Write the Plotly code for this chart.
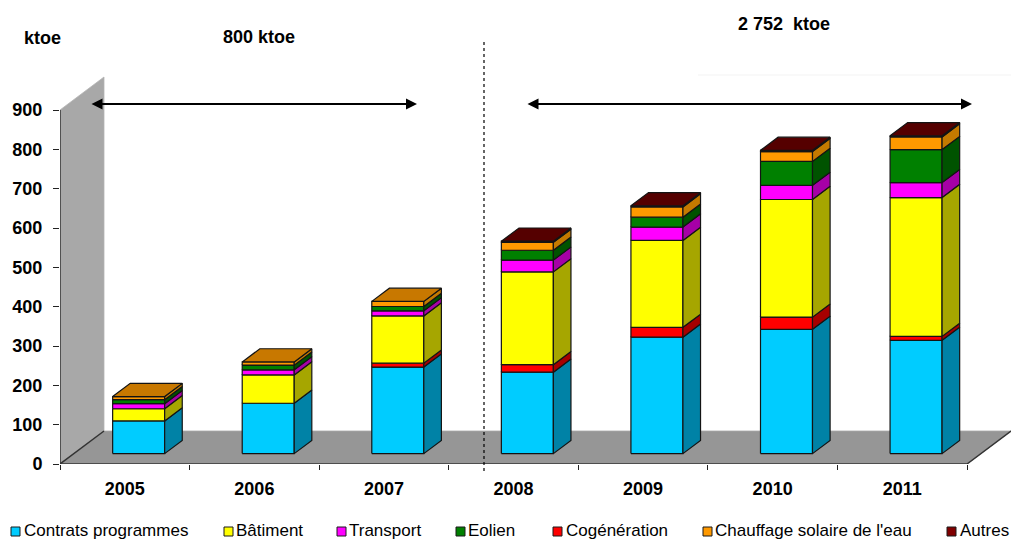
import plotly.graph_objects as go

# Annual savings by programme, ktoe
years = ["2005", "2006", "2007", "2008", "2009", "2010", "2011"]
contrats = [83, 128, 220, 207, 296, 316, 288]
cogeneration = [0, 0, 10, 19, 25, 31, 10]
batiment = [31, 72, 120, 236, 221, 299, 353]
transport = [13, 13, 13, 30, 34, 36, 38]
eolien = [10, 12, 11, 25, 25, 61, 84]
chauffage = [8, 8, 13, 20, 26, 25, 32]
autres = [0, 0, 0, 3, 3, 3, 3]
y_ticks = [0, 100, 200, 300, 400, 500, 600, 700, 800, 900]

# (name, value list, front colour, side colour, top colour), in stacking order
stack = [
    ("Contrats programmes", contrats, "#00ccff", "#0082a6", "#0082a6"),
    ("Cogénération", cogeneration, "#ff0000", "#a60000", "#a60000"),
    ("Bâtiment", batiment, "#ffff00", "#a6a600", "#a6a600"),
    ("Transport", transport, "#ff00ff", "#a600a6", "#a600a6"),
    ("Eolien", eolien, "#008000", "#005300", "#005300"),
    ("Chauffage solaire de l'eau", chauffage, "#ff9900", "#c47a00", "#c87800"),
    ("Autres", autres, "#800000", "#550000", "#550000"),
]
legend_order = ["Contrats programmes", "Bâtiment", "Transport", "Eolien",
                "Cogénération", "Chauffage solaire de l'eau", "Autres"]
legend_marker_px = [11, 224, 337, 456, 553, 703, 947]
legend_text_px = [22, 234, 347, 466, 564, 713, 958]

W, H = 1011, 540
LEFT_PX, ZERO_PX, TOP_VALUE_PX = 60, 464, 110
PX_PER_CAT = (967 - 60) / 7
PX_PER_UNIT = (ZERO_PX - TOP_VALUE_PX) / 900

# Oblique projection of the chart's depth axis, in axis units
DEPTH_X = 44 / PX_PER_CAT
DEPTH_Y = 33 / PX_PER_UNIT
BAR_HALF = 26 / PX_PER_CAT
FRONT = 0.315
BACK = 0.715
X_MIN, X_MAX = -0.5, 6.5
Y_TOP = ZERO_PX / PX_PER_UNIT


def px(x):
    return x / W


def py(y):
    return 1 - y / H


def project(x, y, depth):
    return x + depth * DEPTH_X, y + depth * DEPTH_Y


def polygon(points):
    xs = [p[0] for p in points] + [points[0][0], None]
    ys = [p[1] for p in points] + [points[0][1], None]
    return xs, ys


def add_poly(fig, xs, ys, fill, line_color="#141414", width=1.2):
    fig.add_trace(go.Scatter(
        x=xs, y=ys, mode="lines", fill="toself", fillcolor=fill,
        line=dict(color=line_color, width=width), hoverinfo="skip",
        showlegend=False,
    ))


fig = go.Figure()

# Back wall side panel and floor
wall = [project(X_MIN, 0, 0), project(X_MIN, 900, 0),
        project(X_MIN, 900, 1), project(X_MIN, 0, 1)]
xs, ys = polygon(wall)
add_poly(fig, xs, ys, "#a8a8a8", "#b4b4b4", 0.8)
floor = [project(X_MIN, 0, 0), project(X_MAX, 0, 0),
         project(X_MAX, 0, 1), project(X_MIN, 0, 1)]
xs, ys = polygon(floor)
add_poly(fig, xs, ys, "#969696", "#a8a8a8", 0.8)

# Stacked prisms: one front, side and top trace per series
totals = [sum(s[1][i] for s in stack) for i in range(len(years))]
base = [0] * len(years)
for name, values, front_col, side_col, top_col in stack:
    fx, fy, sx, sy, tx, ty = [], [], [], [], [], []
    for i, v in enumerate(values):
        if v == 0:
            continue
        y0, y1 = base[i], base[i] + v
        xl, xr = i - BAR_HALF, i + BAR_HALF
        a, b = polygon([project(xl, y0, FRONT), project(xr, y0, FRONT),
                        project(xr, y1, FRONT), project(xl, y1, FRONT)])
        fx += a
        fy += b
        a, b = polygon([project(xr, y0, FRONT), project(xr, y0, BACK),
                        project(xr, y1, BACK), project(xr, y1, FRONT)])
        sx += a
        sy += b
        if y1 == totals[i]:
            a, b = polygon([project(xl, y1, FRONT), project(xr, y1, FRONT),
                            project(xr, y1, BACK), project(xl, y1, BACK)])
            tx += a
            ty += b
        base[i] = y1
    add_poly(fig, fx, fy, front_col)
    add_poly(fig, sx, sy, side_col)
    if tx:
        add_poly(fig, tx, ty, top_col)

# Axis lines, including the floor's slanted edges
fig.add_trace(go.Scatter(
    x=[X_MIN + DEPTH_X, X_MIN, X_MIN, None, X_MIN, X_MAX, X_MAX + DEPTH_X],
    y=[DEPTH_Y, 0, 900, None, 0, 0, DEPTH_Y],
    mode="lines", line=dict(color="#333333", width=1.5),
    hoverinfo="skip", showlegend=False,
))

FONT = "Liberation Sans, Arial, sans-serif"
annotations = []
shapes = []


def label(text, x, y, size, bold=True, anchor="center"):
    annotations.append(dict(
        text=f"<b>{text}</b>" if bold else text,
        xref="paper", yref="paper", x=px(x), y=py(y),
        xanchor=anchor, yanchor="middle", showarrow=False,
        font=dict(family=FONT, size=size, color="black"),
    ))


def span_arrow(x0, x1, y):
    annotations.append(dict(
        text="", xref="paper", yref="paper", x=px(x1), y=py(y),
        axref="pixel", ayref="pixel", ax=x0 - x1, ay=0,
        showarrow=True, arrowside="end+start", arrowhead=2,
        arrowsize=1.1, arrowwidth=2, arrowcolor="black",
    ))


label("ktoe", 42, 38, 18)
label("800 ktoe", 259, 37, 18)
label("2 752&nbsp;&nbsp;ktoe", 784, 24, 18)
span_arrow(90, 417, 104)
span_arrow(526, 972, 104)

shapes.append(dict(type="line", xref="paper", yref="paper",
                   x0=px(484), x1=px(484), y0=py(42), y1=py(472),
                   line=dict(color="black", width=1.2, dash="dot")))
shapes.append(dict(type="line", xref="paper", yref="paper",
                   x0=px(698), x1=px(W), y0=py(75), y1=py(75),
                   line=dict(color="#f3f3f3", width=1)))

# Hand-spaced legend row
for name, mx, tx in zip(legend_order, legend_marker_px, legend_text_px):
    colour = next(s[2] for s in stack if s[0] == name)
    shapes.append(dict(type="rect", xref="paper", yref="paper",
                       x0=px(mx), x1=px(mx + 9), y0=py(536), y1=py(527),
                       fillcolor=colour, line=dict(color="#1a1a1a", width=1)))
    label(name, tx, 530.5, 17, bold=False, anchor="left")

fig.update_layout(
    width=W, height=H, margin=dict(l=0, r=0, t=0, b=0),
    paper_bgcolor="white", plot_bgcolor="white", showlegend=False,
    annotations=annotations, shapes=shapes,
    xaxis=dict(
        automargin=False,
        domain=[LEFT_PX / W, 1], range=[X_MIN, X_MAX + DEPTH_X],
        tickmode="array", tickvals=list(range(len(years))), ticktext=years,
        ticks="", showgrid=False, zeroline=False, showline=False,
        ticklabelstandoff=12,
        tickfont=dict(family=FONT, size=18, color="black", weight="bold"),
        minor=dict(tickmode="array",
                   tickvals=[X_MIN + k for k in range(len(years) + 1)],
                   ticks="outside", ticklen=5, tickwidth=1.2,
                   tickcolor="#222222", showgrid=False),
    ),
    yaxis=dict(
        automargin=False,
        domain=[1 - ZERO_PX / H, 1], range=[0, Y_TOP],
        tickmode="array", tickvals=y_ticks, ticks="outside", ticklen=6,
        tickwidth=1.2, tickcolor="#222222", showgrid=False, zeroline=False,
        showline=False, ticklabelstandoff=7,
        tickfont=dict(family=FONT, size=18, color="black", weight="bold"),
    ),
)

fig.write_html("out.html")
